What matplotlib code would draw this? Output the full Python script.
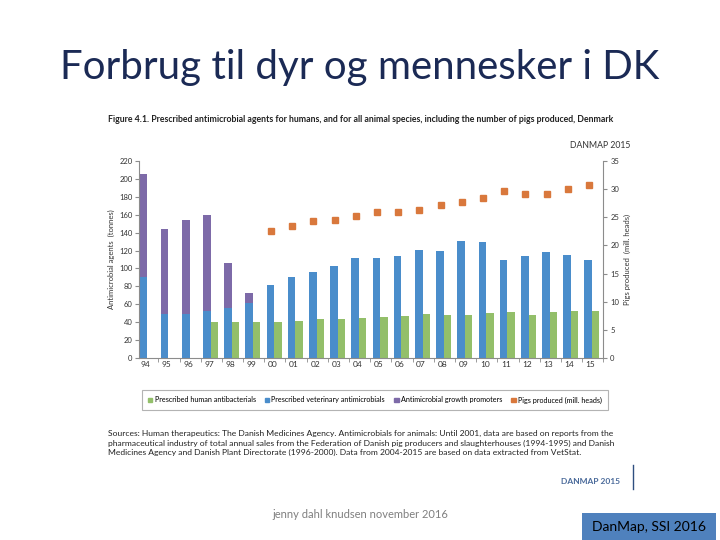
import numpy as np
import matplotlib
matplotlib.use('Agg')
import matplotlib.pyplot as plt
from matplotlib.patches import Patch, Rectangle
from matplotlib.lines import Line2D

plt.rcParams['font.family'] = ['Lato', 'DejaVu Sans']

# データ (DANMAP 2015, 図4.1 から読み取り)
years = ['94', '95', '96', '97', '98', '99', '00', '01', '02', '03', '04',
         '05', '06', '07', '08', '09', '10', '11', '12', '13', '14', '15']
vet = [90, 49, 49, 53, 56, 61, 81, 90, 96, 103, 112,
       112, 114, 121, 119, 131, 129, 109, 114, 118, 115, 109]
growth = [116, 95, 105, 107, 50, 12, 0, 0, 0, 0, 0,
          0, 0, 0, 0, 0, 0, 0, 0, 0, 0, 0]
human = [np.nan, np.nan, np.nan, 40, 40, 40, 40, 41, 43, 44, 45,
         46, 47, 49.5, 48, 48.5, 50.5, 51, 48, 51, 53, 53]
pigs = [np.nan] * 6 + [22.5, 23.4, 24.3, 24.6, 25.2, 25.9, 25.9, 26.3,
                       27.2, 27.7, 28.5, 29.6, 29.2, 29.1, 30.0, 30.8]

c_human = '#93BF6A'
c_vet = '#4A8DCB'
c_growth = '#7D6AA8'
c_pigs = '#D9783C'
axis_col = '#8C8C8C'

fig = plt.figure(figsize=(7.2, 5.4), dpi=100)
W, H = 720, 540

def fx(px):
    return px / W

def fy(py):
    return 1 - py / H

# タイトル
fig.text(0.5, fy(67), 'Forbrug til dyr og mennesker i DK', ha='center', va='center',
         fontsize=29, color='#1B2A55')

fig.text(fx(108), fy(119), 'Figure 4.1. Prescribed antimicrobial agents for humans, and for all animal species, '
         'including the number of pigs produced, Denmark', ha='left', va='center',
         fontsize=6.3, fontweight='bold', color='#222222')
fig.text(fx(630), fy(145), 'DANMAP 2015', ha='right', va='center', fontsize=6.2, color='#333333')

# メインの軸
ax = fig.add_axes([fx(139.3), fy(358), fx(603.3) - fx(139.3), fy(161) - fy(358)])
x = np.arange(len(years))
ax.bar(x - 0.29, vet, width=0.36, align='edge', color=c_vet, zorder=2)
ax.bar(x - 0.29, growth, width=0.36, bottom=vet, align='edge', color=c_growth, zorder=2)
ax.bar(x + 0.07, human, width=0.35, align='edge', color=c_human, zorder=2)

ax.set_xlim(-0.3, 21.41)
ax.set_ylim(0, 220)
ax.set_yticks(np.arange(0, 221, 20))
ax.set_xticks(x)
ax.set_xticklabels(years)
ax.set_xticks(x + 0.6, minor=True)
ax.tick_params(axis='x', which='major', length=0, labelsize=6, pad=2, colors='#333333')
ax.tick_params(axis='x', which='minor', length=3, direction='out', color=axis_col)
ax.tick_params(axis='y', length=3, direction='out', labelsize=5.5, color=axis_col,
               labelcolor='#333333', pad=2)
for s in ['top', 'right']:
    ax.spines[s].set_visible(False)
for s in ['left', 'bottom']:
    ax.spines[s].set_color(axis_col)
    ax.spines[s].set_linewidth(0.8)
ax.set_ylabel('Antimicrobial agents  (tonnes)', fontsize=5.5, color='#333333', labelpad=3)

ax2 = ax.twinx()
ax2.plot(x - 0.08, pigs, linestyle='none', marker='s', markersize=3.8, color=c_pigs, zorder=3)
ax2.set_ylim(0, 35)
ax2.set_yticks(np.arange(0, 36, 5))
ax2.tick_params(axis='y', length=3, direction='out', labelsize=5.5, color=axis_col,
                labelcolor='#333333', pad=2)
for s in ['top', 'left', 'bottom']:
    ax2.spines[s].set_visible(False)
ax2.spines['right'].set_color(axis_col)
ax2.spines['right'].set_linewidth(0.8)
ax2.set_ylabel('Pigs produced  (mill. heads)', fontsize=5.5, color='#333333', labelpad=3)

# 凡例
handles = [Patch(color=c_human), Patch(color=c_vet), Patch(color=c_growth), Patch(color=c_pigs)]
labels = ['Prescribed human antibacterials', 'Prescribed veterinary antimicrobials',
          'Antimicrobial growth promoters', 'Pigs produced (mill. heads)']
leg = fig.legend(handles, labels, loc='center', ncol=4, fontsize=5.2,
                 bbox_to_anchor=(fx(138), fy(411), fx(612) - fx(138), fy(389) - fy(411)),
                 mode='expand', frameon=True, fancybox=False, edgecolor='#A0A0A0',
                 handlelength=0.6, handleheight=0.6, handletextpad=0.3, columnspacing=0.5,
                 borderpad=0.9)
leg.get_frame().set_linewidth(0.8)

# 出典
src = ('Sources: Human therapeutics: The Danish Medicines Agency. Antimicrobials for animals: Until 2001, data are based on reports from the\n'
       'pharmaceutical industry of total annual sales from the Federation of Danish pig producers and slaughterhouses (1994-1995) and Danish\n'
       'Medicines Agency and Danish Plant Directorate (1996-2000). Data from 2004-2015 are based on data extracted from VetStat.')
fig.text(fx(108), fy(443), src, ha='left', va='center', fontsize=6.1, color='#222222', linespacing=1.45)

fig.text(fx(620), fy(481), 'DANMAP 2015', ha='right', va='center', fontsize=6,
         fontweight='bold', color='#4A6A9A')
fig.add_artist(Line2D([fx(633), fx(633)], [fy(465), fy(489)], color='#2F4F80', linewidth=1))

fig.text(fx(360), fy(515), 'jenny dahl knudsen november 2016', ha='center', va='center',
         fontsize=8, color='#7F7F7F')

fig.add_artist(Rectangle((fx(582), 0), fx(716) - fx(582), fy(513), transform=fig.transFigure,
                         facecolor='#4F81BD', edgecolor='none'))
fig.text(fx(649), fy(527), 'DanMap, SSI 2016', ha='center', va='center', fontsize=10, color='black')

fig.savefig('out.png', dpi=100)
